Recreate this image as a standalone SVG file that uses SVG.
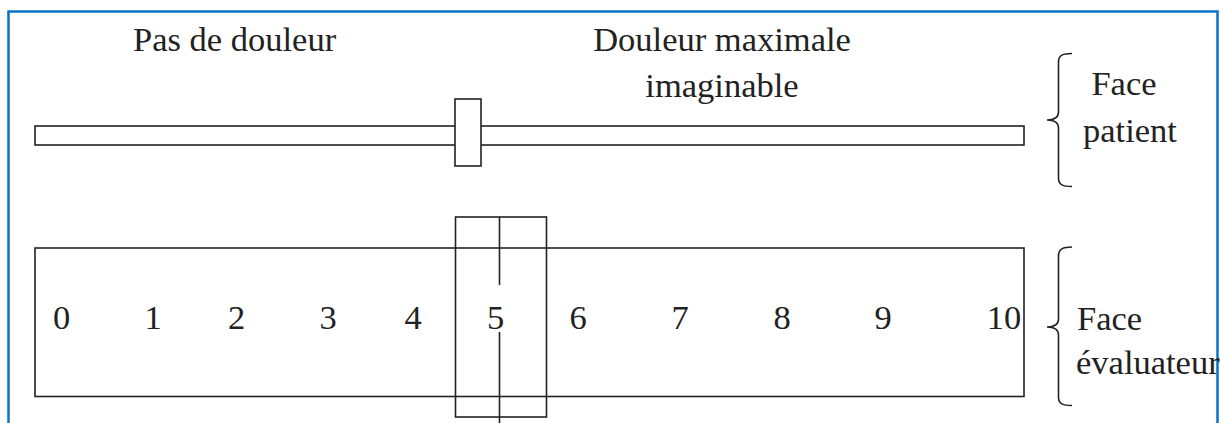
<svg xmlns="http://www.w3.org/2000/svg" width="1221" height="423" viewBox="0 0 1221 423">
<style>
.frame{fill:none;stroke:#0a72c8;stroke-width:2.5}
.ln{fill:none;stroke:#222;stroke-width:1.6}
.box{fill:#fff;stroke:#222;stroke-width:1.6}
.t{font-size:34.5px;fill:#222}
.m{text-anchor:middle}
</style>
<rect fill="#fff" x="0" y="0" width="1221" height="423"/>
<path class="frame" d="M8.5,430 V11.5 H1217.5 V430"/>
<g id="labels">
<text class="t" font-family="Liberation Serif, serif" x="133" y="51">Pas de douleur</text>
<text class="t m" font-family="Liberation Serif, serif" x="722" y="51">Douleur maximale</text>
<text class="t m" font-family="Liberation Serif, serif" x="722" y="97">imaginable</text>
</g>
<g id="patient-bar">
<rect class="box" x="35" y="126" width="989" height="19"/>
</g>
<g id="patient-slider">
<rect class="box" x="455" y="99" width="26" height="67"/>
</g>
<g id="evaluator-scale">
<rect class="box" x="35" y="248" width="989" height="148.5"/>
<text class="t m" font-family="Liberation Serif, serif" x="61.5" y="329">0</text>
<text class="t m" font-family="Liberation Serif, serif" x="153" y="329">1</text>
<text class="t m" font-family="Liberation Serif, serif" x="236.5" y="329">2</text>
<text class="t m" font-family="Liberation Serif, serif" x="328" y="329">3</text>
<text class="t m" font-family="Liberation Serif, serif" x="413" y="329">4</text>
<text class="t m" font-family="Liberation Serif, serif" x="495.5" y="329">5</text>
<text class="t m" font-family="Liberation Serif, serif" x="578" y="329">6</text>
<text class="t m" font-family="Liberation Serif, serif" x="680" y="329">7</text>
<text class="t m" font-family="Liberation Serif, serif" x="782" y="329">8</text>
<text class="t m" font-family="Liberation Serif, serif" x="883" y="329">9</text>
<text class="t m" font-family="Liberation Serif, serif" x="1004" y="329">10</text>
</g>
<g id="evaluator-cursor">
<rect class="ln" x="455.5" y="217" width="91" height="200"/>
<path class="ln" d="M499.5,217 V285 M499.5,332 V423"/>
</g>
<g id="connectors">
<path class="ln" d="M1072,53.5 C1063,53.5 1058.5,55 1058.5,62 V112 C1058.5,118 1054,120 1047,120 C1054,120 1058.5,122 1058.5,128 V178 C1058.5,185 1063,186.5 1072,186.5"/>
<path class="ln" d="M1072,247 C1063,247 1058.5,249 1058.5,256 V319 C1058.5,325 1054,327 1047,327 C1054,327 1058.5,329 1058.5,335 V397 C1058.5,404 1063,405.5 1072,405.5"/>
</g>
<g id="face-patient">
<text class="t m" font-family="Liberation Serif, serif" x="1124" y="95">Face</text>
<text class="t m" font-family="Liberation Serif, serif" x="1130" y="142">patient</text>
</g>
<g id="face-evaluateur">
<text class="t" font-family="Liberation Serif, serif" x="1077" y="330">Face</text>
<text class="t" font-family="Liberation Serif, serif" x="1076" y="374" font-size="33.5">évaluateur</text>
</g>
</svg>
